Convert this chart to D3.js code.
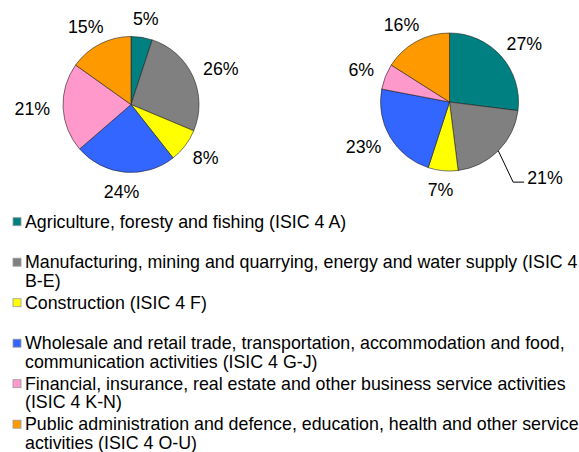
<!DOCTYPE html>
<html>
<head>
<meta charset="utf-8">
<script src="https://cdn.jsdelivr.net/npm/d3@7"></script>
<style>
  html, body { margin: 0; padding: 0; background: #fff; }
  svg { display: block; }
  text { font-family: "Liberation Sans", Arial, sans-serif; fill: #000; }
</style>
</head>
<body>
<svg id="chart" width="579" height="452"></svg>
<script>
// ---- data ----
const categories = [
  "Agriculture, foresty and fishing (ISIC 4 A)",
  "Manufacturing, mining and quarrying, energy and water supply (ISIC 4 B-E)",
  "Construction (ISIC 4 F)",
  "Wholesale and retail trade, transportation, accommodation and food, communication activities (ISIC 4 G-J)",
  "Financial, insurance, real estate and other business service activities (ISIC 4 K-N)",
  "Public administration and defence, education, health and other service activities (ISIC 4 O-U)"
];
const legendLines = [
  ["Agriculture, foresty and fishing (ISIC 4 A)"],
  ["Manufacturing, mining and quarrying, energy and water supply (ISIC 4", "B-E)"],
  ["Construction (ISIC 4 F)"],
  ["Wholesale and retail trade, transportation, accommodation and food,", "communication activities (ISIC 4 G-J)"],
  ["Financial, insurance, real estate and other business service activities", "(ISIC 4 K-N)"],
  ["Public administration and defence, education, health and other service", "activities (ISIC 4 O-U)"]
];
const valuesLeft  = [5, 26, 8, 24, 21, 15];
const valuesRight = [27, 21, 7, 23, 6, 16];
const colors = ["#008080", "#808080", "#FFFF00", "#3366FF", "#FF99CC", "#FF9900"];

// ---- layout ----
const svg = d3.select("#chart");
svg.append("rect").attr("width", 579).attr("height", 452).attr("fill", "#fff");

const FS = 17.8;
const capH = FS * 0.716;
const pies = [
  { values: valuesLeft,  cx: 131,   cy: 104.5, r: 68, leader: -1 },
  { values: valuesRight, cx: 449.5, cy: 102,   r: 69, leader: 1 }
];

const pieGen = d3.pie().sort(null).value(d => d);
const color = d3.scaleOrdinal().domain(d3.range(categories.length)).range(colors);

// temp text for measuring
const meas = svg.append("text").attr("font-size", FS).attr("visibility", "hidden");
function textW(s) { meas.text(s); return meas.node().getComputedTextLength(); }

pies.forEach(p => {
  const g = svg.append("g").attr("transform", `translate(${p.cx},${p.cy})`);
  const arc = d3.arc().innerRadius(0).outerRadius(p.r);
  const arcs = pieGen(p.values);
  g.selectAll("path.slice").data(arcs).enter().append("path")
    .attr("class", "slice")
    .attr("d", arc)
    .attr("fill", (d, i) => color(i))
    .attr("stroke", "#222")
    .attr("stroke-width", 0.6);

  const gap = 13;
  arcs.forEach((d, i) => {
    const a = (d.startAngle + d.endAngle) / 2;
    const ux = Math.sin(a), uy = -Math.cos(a);
    const label = d3.format(".0f")(d.data) + "%";
    const w = textW(label);
    if (i === p.leader) {
      const R2 = p.r * 1.55;
      const sx = p.r * ux, sy = p.r * uy;
      const lx = R2 * ux, ly = R2 * uy;
      g.append("polyline")
        .attr("points", [[sx, sy], [lx - 12, ly + 4.5], [lx - 1, ly + 4.5]].map(q => q.join(",")).join(" "))
        .attr("fill", "none").attr("stroke", "#000").attr("stroke-width", 1);
      g.append("text").attr("x", lx + 2).attr("y", ly + capH / 2)
        .attr("font-size", FS).attr("text-anchor", "start").text(label);
    } else {
      const px = (p.r + gap) * ux, py = (p.r + gap) * uy;
      const tx = px + ux * w / 2, ty = py + uy * capH / 2;
      g.append("text").attr("x", tx).attr("y", ty + capH / 2)
        .attr("font-size", FS).attr("text-anchor", "middle").text(label);
    }
  });
});
meas.remove();

// ---- legend ----
const legendY = d3.scaleLinear().domain([0, 5]).range([227.7, 430.2]);
const lineH = 18.4;
const lg = svg.append("g");
legendLines.forEach((lines, i) => {
  const by = legendY(i);
  lg.append("rect").attr("x", 13).attr("y", by - 10).attr("width", 8).attr("height", 8)
    .attr("fill", color(i)).attr("stroke", "#999").attr("stroke-width", 0.8);
  const t = lg.append("text").attr("font-size", FS).attr("y", by);
  lines.forEach((ln, j) => {
    t.append("tspan").attr("x", 25).attr("y", by + j * lineH).text(ln);
  });
});
</script>
</body>
</html>
